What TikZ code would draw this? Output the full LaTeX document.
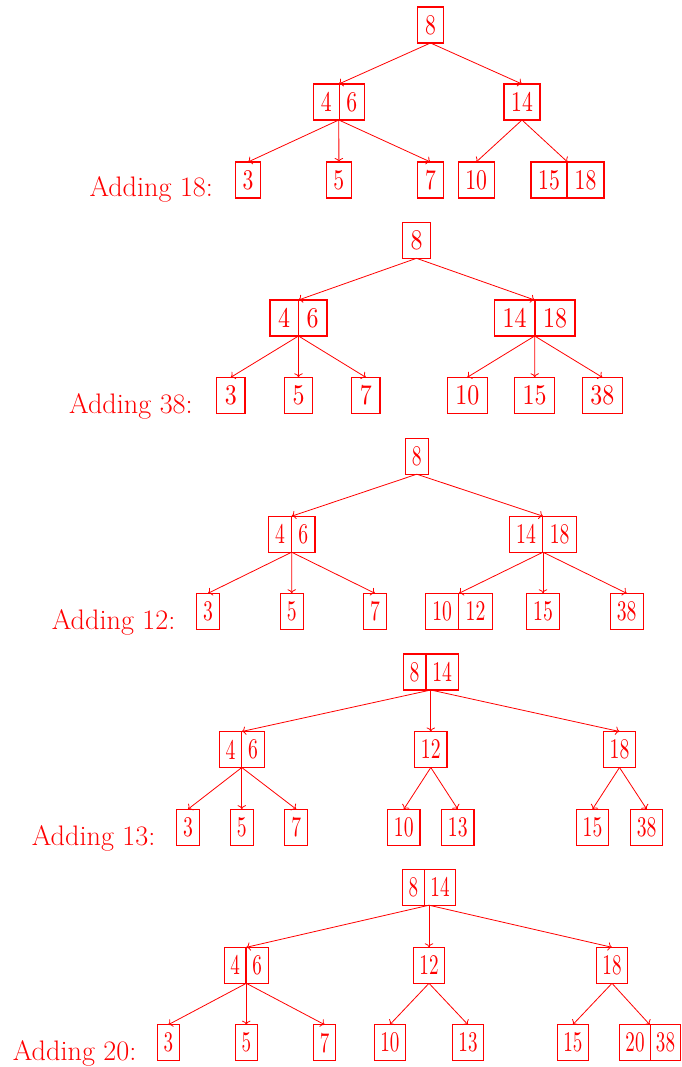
\documentclass[tikz,border=0pt]{standalone}
\usepackage{fontspec}
\usetikzlibrary{arrows.meta,fit}
\newfontfamily\fontA{lmroman10-regular.otf}[FakeStretch=0.76]
\newfontfamily\fontB{lmroman10-regular.otf}[FakeStretch=0.84]
\newfontfamily\fontC{lmroman10-regular.otf}[FakeStretch=0.69]
\newfontfamily\fontE{lmroman10-regular.otf}[FakeStretch=0.67]
\def\tfont{\fontA}
\begin{document}
\begin{tikzpicture}[x=1pt,y=-1pt,
  box/.style={draw, color=red, line width=1.1pt, inner sep=0pt, outer sep=0pt,
    minimum height=36pt, font=\tfont\fontsize{28.5}{30}\selectfont},
  whole/.style={inner sep=0pt, outer sep=0pt},
  edge/.style={draw=red, line width=0.8pt, -{To[scale=1.2]}},
  lbl/.style={text=red, anchor=base west, inner sep=0pt, font=\fontsize{28.2}{30}\selectfont}]
\useasboundingbox (0,0) rectangle (681,1067);

% ---------------- Tree 1 ----------------
\begin{scope}
\def\tfont{\fontA}
\node[box, minimum width=25.5] (t1r) at (430.5,25) {8};
\node[box, minimum width=26, anchor=east] (t1al) at (339.3,102) {4};
\node[box, minimum width=25, anchor=west] (t1ar) at (339.3,102) {6};
\node[whole, fit=(t1al)(t1ar)] (t1a) {};
\node[box, minimum width=36] (t1b) at (522,102) {14};
\node[box, minimum width=24.6] (t1c) at (248,180) {3};
\node[box, minimum width=25.6] (t1d) at (338.9,180) {5};
\node[box, minimum width=25.6] (t1e) at (430.5,180) {7};
\node[box, minimum width=35.7] (t1f) at (476.2,180) {10};
\node[box, minimum width=36, anchor=east] (t1gl) at (567,180) {15};
\node[box, minimum width=37, anchor=west] (t1gr) at (567,180) {18};
\node[whole, fit=(t1gl)(t1gr)] (t1g) {};
\node[lbl] (t1lab) at (89.3,197) {Adding 18:};
\draw[edge] (t1r.south) -- (t1a.north);
\draw[edge] (t1r.south) -- (t1b.north);
\draw[edge] (t1a.south) -- (t1c.north);
\draw[edge] (t1a.south) -- (t1d.north);
\draw[edge] (t1a.south) -- (t1e.north);
\draw[edge] (t1b.south) -- (t1f.north);
\draw[edge] (t1b.south) -- (t1g.north);
\end{scope}

% ---------------- Tree 2 ----------------
\begin{scope}
\def\tfont{\fontB}
\node[box, minimum width=28.4] (t2r) at (416.5,240.3) {8};
\node[box, minimum width=28.3, anchor=east] (t2al) at (298.3,318) {4};
\node[box, minimum width=28.7, anchor=west] (t2ar) at (298.3,318) {6};
\node[whole, fit=(t2al)(t2ar)] (t2a) {};
\node[box, minimum width=40.7, anchor=east] (t2bl) at (535,318) {14};
\node[box, minimum width=40, anchor=west] (t2br) at (535,318) {18};
\node[whole, fit=(t2bl)(t2br)] (t2b) {};
\node[box, minimum width=28.3] (t2c) at (230.8,395.3) {3};
\node[box, minimum width=28.3] (t2d) at (298.5,395.3) {5};
\node[box, minimum width=28.3] (t2e) at (365.8,395.3) {7};
\node[box, minimum width=40] (t2f) at (467.3,395.3) {10};
\node[box, minimum width=40] (t2g) at (534.7,395.3) {15};
\node[box, minimum width=40] (t2h) at (602.3,395.3) {38};
\node[lbl] (t2lab) at (69,413) {Adding 38:};
\draw[edge] (t2r.south) -- (t2a.north);
\draw[edge] (t2r.south) -- (t2b.north);
\draw[edge] (t2a.south) -- (t2c.north);
\draw[edge] (t2a.south) -- (t2d.north);
\draw[edge] (t2a.south) -- (t2e.north);
\draw[edge] (t2b.south) -- (t2f.north);
\draw[edge] (t2b.south) -- (t2g.north);
\draw[edge] (t2b.south) -- (t2h.north);
\end{scope}

% ---------------- Tree 3 ----------------
\begin{scope}
\def\tfont{\fontC}
\node[box, minimum width=23] (t3r) at (416.8,456.2) {8};
\node[box, minimum width=23.4, anchor=east] (t3al) at (291.7,534.2) {4};
\node[box, minimum width=23.3, anchor=west] (t3ar) at (291.7,534.2) {6};
\node[whole, fit=(t3al)(t3ar)] (t3a) {};
\node[box, minimum width=33.4, anchor=east] (t3bl) at (542.7,534.2) {14};
\node[box, minimum width=34, anchor=west] (t3br) at (542.7,534.2) {18};
\node[whole, fit=(t3bl)(t3br)] (t3b) {};
\node[box, minimum width=22.6] (t3c) at (208,611.3) {3};
\node[box, minimum width=23] (t3d) at (291.7,611.3) {5};
\node[box, minimum width=23] (t3e) at (375,611.3) {7};
\node[box, minimum width=33, anchor=east] (t3fl) at (458.7,611.3) {10};
\node[box, minimum width=33.6, anchor=west] (t3fr) at (458.7,611.3) {12};
\node[whole, fit=(t3fl)(t3fr)] (t3f) {};
\node[box, minimum width=33.6] (t3g) at (543,611.3) {15};
\node[box, minimum width=33.3] (t3h) at (626.7,611.3) {38};
\node[lbl] (t3lab) at (51.7,629.3) {Adding 12:};
\draw[edge] (t3r.south) -- (t3a.north);
\draw[edge] (t3r.south) -- (t3b.north);
\draw[edge] (t3a.south) -- (t3c.north);
\draw[edge] (t3a.south) -- (t3d.north);
\draw[edge] (t3a.south) -- (t3e.north);
\draw[edge] (t3b.south) -- (t3f.north);
\draw[edge] (t3b.south) -- (t3g.north);
\draw[edge] (t3b.south) -- (t3h.north);
\end{scope}

% ---------------- Tree 4 ----------------
\begin{scope}
\def\tfont{\fontC}
\node[box, minimum width=22.7, anchor=east] (t4rl) at (426,672) {8};
\node[box, minimum width=32.3, anchor=west] (t4rr) at (426,672) {14};
\node[whole, fit=(t4rl)(t4rr)] (t4r) {};
\node[box, minimum width=22.4, anchor=east] (t4al) at (241.7,749.5) {4};
\node[box, minimum width=22.6, anchor=west] (t4ar) at (241.7,749.5) {6};
\node[whole, fit=(t4al)(t4ar)] (t4a) {};
\node[box, minimum width=32.4] (t4b) at (430.8,749.5) {12};
\node[box, minimum width=32.4] (t4c) at (619.5,749.5) {18};
\node[box, minimum width=22.6] (t4d) at (188,827.2) {3};
\node[box, minimum width=22.6] (t4e) at (241.8,827.2) {5};
\node[box, minimum width=22.6] (t4f) at (296.2,827.2) {7};
\node[box, minimum width=32.3] (t4g) at (403.8,827.2) {10};
\node[box, minimum width=32.3] (t4h) at (457.8,827.2) {13};
\node[box, minimum width=31.8] (t4i) at (592.5,827.2) {15};
\node[box, minimum width=32] (t4j) at (646.7,827.2) {38};
\node[lbl] (t4lab) at (31.7,845.5) {Adding 13:};
\draw[edge] (t4r.south) -- (t4a.north);
\draw[edge] (t4r.south) -- (t4b.north);
\draw[edge] (t4r.south) -- (t4c.north);
\draw[edge] (t4a.south) -- (t4d.north);
\draw[edge] (t4a.south) -- (t4e.north);
\draw[edge] (t4a.south) -- (t4f.north);
\draw[edge] (t4b.south) -- (t4g.north);
\draw[edge] (t4b.south) -- (t4h.north);
\draw[edge] (t4c.south) -- (t4i.north);
\draw[edge] (t4c.south) -- (t4j.north);
\end{scope}

% ---------------- Tree 5 ----------------
\begin{scope}
\def\tfont{\fontE}
\node[box, minimum width=22, anchor=east] (t5rl) at (424.3,887.2) {8};
\node[box, minimum width=31.4, anchor=west] (t5rr) at (424.3,887.2) {14};
\node[whole, fit=(t5rl)(t5rr)] (t5r) {};
\node[box, minimum width=21.7, anchor=east] (t5al) at (246,965.3) {4};
\node[box, minimum width=22.3, anchor=west] (t5ar) at (246,965.3) {6};
\node[whole, fit=(t5al)(t5ar)] (t5a) {};
\node[box, minimum width=31] (t5b) at (429,965.3) {12};
\node[box, minimum width=30.6] (t5c) at (612,965.3) {18};
\node[box, minimum width=22] (t5d) at (168.3,1042.7) {3};
\node[box, minimum width=22] (t5e) at (246.3,1042.7) {5};
\node[box, minimum width=22] (t5f) at (324.7,1042.7) {7};
\node[box, minimum width=31] (t5g) at (389.8,1042.7) {10};
\node[box, minimum width=31] (t5h) at (468,1042.7) {13};
\node[box, minimum width=31] (t5i) at (572.8,1042.7) {15};
\node[box, minimum width=31.4, anchor=east] (t5jl) at (650.7,1042.7) {20};
\node[box, minimum width=29.6, anchor=west] (t5jr) at (650.7,1042.7) {38};
\node[whole, fit=(t5jl)(t5jr)] (t5j) {};
\node[lbl] (t5lab) at (12.7,1060) {Adding 20:};
\draw[edge] (t5r.south) -- (t5a.north);
\draw[edge] (t5r.south) -- (t5b.north);
\draw[edge] (t5r.south) -- (t5c.north);
\draw[edge] (t5a.south) -- (t5d.north);
\draw[edge] (t5a.south) -- (t5e.north);
\draw[edge] (t5a.south) -- (t5f.north);
\draw[edge] (t5b.south) -- (t5g.north);
\draw[edge] (t5b.south) -- (t5h.north);
\draw[edge] (t5c.south) -- (t5i.north);
\draw[edge] (t5c.south) -- (t5j.north);
\end{scope}
\end{tikzpicture}
\end{document}
